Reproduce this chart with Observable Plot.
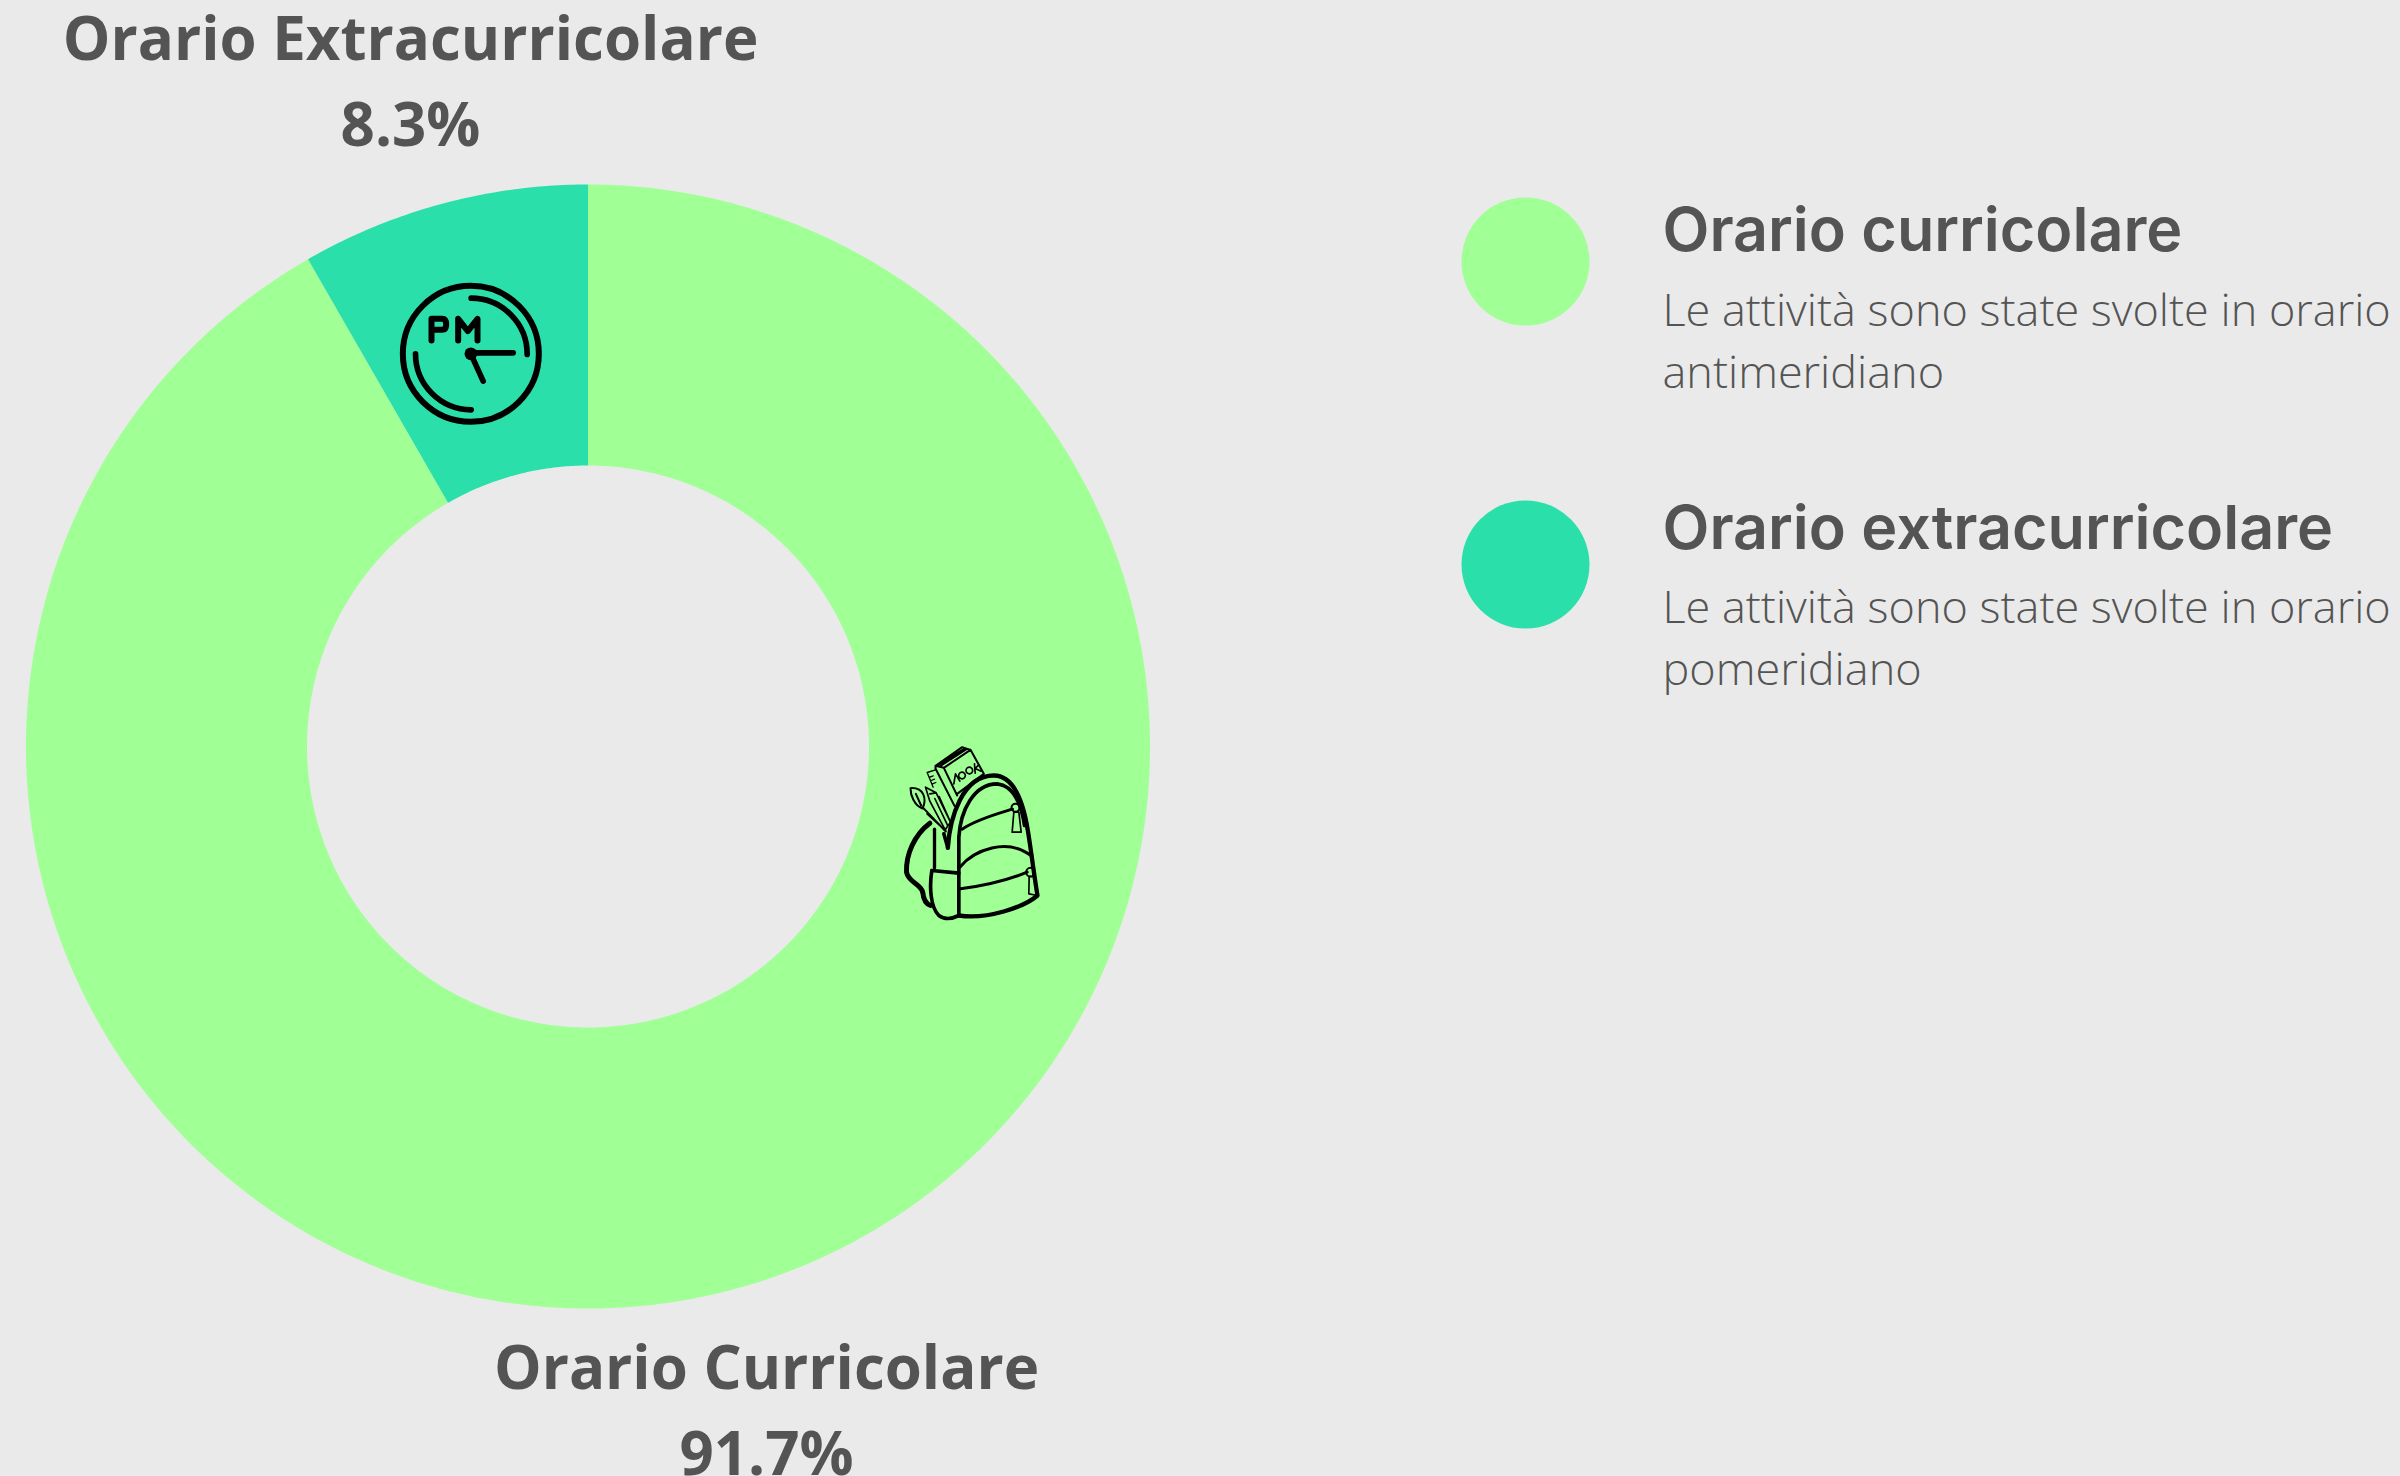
<!DOCTYPE html>
<html>
<head>
<meta charset="utf-8">
<style>html,body{margin:0;padding:0;background:#eaeaea}svg{display:block}</style>
<script src="https://cdn.jsdelivr.net/npm/d3@7"></script>
<script src="https://cdn.jsdelivr.net/npm/@observablehq/plot@0.6"></script>
</head>
<body>
<div id="chart"></div>
<script>
const categories = ["Orario Curricolare", "Orario Extracurricolare"];
const shares = [91.7, 8.3];
const colors = ["#a0ff95", "#2bdfaa"];
const legendTitles = ["Orario curricolare", "Orario extracurricolare"];
const legendTexts = [
  "Le attività sono state svolte in orario\nantimeridiano",
  "Le attività sono state svolte in orario\npomeridiano"
];

const W = 2400, H = 1476, CX = 587.5, CY = 746, R = 562, R0 = 281;
const INK = "#545454";

const pie = d3.pie().sort(null)(shares);
const sliceFeatures = pie.map((s, i) => {
  const n = Math.max(2, Math.ceil((s.endAngle - s.startAngle) * 180 / Math.PI * 2));
  const pt = (a, r) => [CX + r * Math.sin(a), CY - r * Math.cos(a)];
  const ring = [];
  for (let k = 0; k <= n; k++) ring.push(pt(s.startAngle + (s.endAngle - s.startAngle) * k / n, R));
  for (let k = n; k >= 0; k--) ring.push(pt(s.startAngle + (s.endAngle - s.startAngle) * k / n, R0));
  ring.push(ring[0]);
  return {type: "Feature", properties: {color: colors[i]}, geometry: {type: "Polygon", coordinates: [ring]}};
});

const sliceLabelPos = [[766, 1404], [410, 75]];
const sliceLabels = categories.map((c, i) => ({
  text: `${c}\n${shares[i]}%`, x: sliceLabelPos[i][0], y: sliceLabelPos[i][1]
}));
const legendRows = legendTitles.map((t, i) => ({
  title: t, desc: legendTexts[i], color: colors[i],
  cy: [261, 564][i], ty: [231, 529][i], dy: [337, 634][i]
}));

const clockSvg = `<svg xmlns="http://www.w3.org/2000/svg" viewBox="0 0 600 540"><g fill="none" stroke="#000" stroke-linecap="round" stroke-linejoin="round">
<circle cx="271" cy="280" r="204" stroke-width="18"/>
<path stroke-width="17" d="M272 113A168 168 0 0 1 440 282M105 280A168 168 0 0 0 272 448"/>
<path stroke-width="17" d="M271 277H398M271 280L308 362"/>
<path stroke-width="18" d="M153 240V175H185Q197 175 197 192Q197 208 185 208H153M233 240V175L262 212L291 175V240"/></g>
<circle cx="271" cy="280" r="19"/></svg>`;

const bagSvg = `<svg xmlns="http://www.w3.org/2000/svg" viewBox="0 0 510 600"><g fill="none" stroke="#000" stroke-width="10" stroke-linecap="round" stroke-linejoin="round">
<path stroke-width="15" d="M118 278C72 312 46 372 48 425C54 458 92 458 97 487C99 510 106 520 120 525"/>
<path stroke-width="10" d="M132 296V412"/>
<path stroke-width="13" d="M172 352C178 262 215 135 310 135C375 135 400 225 412 300C422 360 430 430 441 495C400 530 290 568 205 555"/>
<path stroke-width="11" d="M124 420C116 470 120 530 145 555C165 570 185 565 205 555L205 320C210 240 250 160 320 160C368 165 392 220 402 285"/>
<path stroke-width="11" d="M124 420L205 428M172 352L160 310"/>
<path stroke-width="9" d="M215 296C260 266 320 250 366 236M208 410C250 360 350 318 425 378M210 475C280 466 350 450 410 425"/>
<circle cx="375" cy="232" r="12" stroke-width="6"/><path stroke-width="5" d="M370 245H385L392 305L365 305Z"/>
<circle cx="420" cy="425" r="13" stroke-width="6"/><path stroke-width="5" d="M416 438H430L442 495L415 490Z"/>
<path stroke-width="6" d="M135 106L215 50L240 58L160 112ZM135 106V114L192 226M160 112L200 195M240 58L280 130L200 190M145 102L222 54M150 106L228 56"/>
<path stroke-width="4" d="M110 126L135 118M110 126L128 170M118 140L128 136M122 150L132 146M126 160L136 156"/>
<path stroke-width="5" d="M105 170L137 187L180 275L164 298L118 212ZM105 170L118 212M118 190L137 187M133 204L172 286M146 198L178 270"/>
<path stroke-width="6" d="M60 173C100 170 110 205 96 234C72 226 60 195 60 173ZM76 190L92 225M98 232L166 303M110 250L165 300"/>
<path stroke-width="5" d="M190 160L195 130L208 152M214 125A10 10 0 1 1 215 145A10 10 0 1 1 214 125M236 110A10 10 0 1 1 237 130A10 10 0 1 1 236 110M252 100L254 128M264 104L254 114L272 122"/></g></svg>`;
const uri = s => "data:image/svg+xml;charset=utf-8," + encodeURIComponent(s);
const icons = [
  {src: uri(clockSvg), x: 480, y: 350, w: 200, h: 180},
  {src: uri(bagSvg), x: 975, y: 830, w: 170, h: 200}
];

const plot = Plot.plot({
  width: W, height: H, margin: 0,
  style: {background: "#eaeaea"},
  projection: {type: () => d3.geoIdentity()},
  marks: [
    Plot.geo(sliceFeatures, {fill: d => d.properties.color, stroke: "none"}),
    ...icons.map(ic => Plot.image([ic], {x: d => d.x, y: d => d.y, src: d => d.src, width: ic.w, height: ic.h})),
    Plot.text(sliceLabels, {x: d => d.x, y: d => d.y, text: d => d.text, fill: INK,
      fontFamily: "Open Sans", fontWeight: 700, fontSize: 60, lineHeight: 1.44, textAnchor: "middle"}),
    Plot.dot(legendRows, {x: () => 1525, y: d => d.cy, r: 64, fill: d => d.color, stroke: "none"}),
    Plot.text(legendRows, {x: () => 1662, y: d => d.ty, text: d => d.title, fill: INK,
      fontFamily: "Inter", fontWeight: 600, fontSize: 61, textAnchor: "start"}),
    Plot.text(legendRows, {x: () => 1662, y: d => d.dy, text: d => d.desc, fill: INK,
      fontFamily: "Open Sans", fontWeight: 300, fontSize: 45, lineHeight: 1.37, textAnchor: "start"})
  ]
});
document.getElementById("chart").append(plot);
</script>
</body>
</html>
